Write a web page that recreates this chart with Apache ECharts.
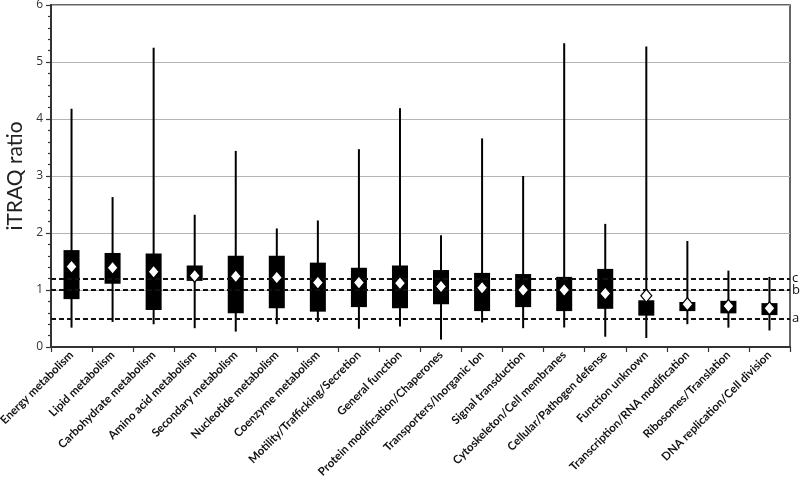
<!DOCTYPE html>
<html>
<head>
<meta charset="utf-8">
<script src="https://cdn.jsdelivr.net/npm/echarts@6/dist/echarts.min.js"></script>
<style>html,body{margin:0;padding:0;background:#fff}#c{width:800px;height:482px}</style>
</head>
<body>
<div id="c"></div>
<script>
var categories = ["Energy metabolism","Lipid metabolism","Carbohydrate metabolism","Amino acid metabolism","Secondary metabolism","Nucleotide metabolism","Coenzyme metabolism","Motility/Trafficking/Secretion","General function","Protein modification/Chaperones","Transporters/Inorganic Ion","Signal transduction","Cytoskeleton/Cell membranes","Cellular/Pathogen defense","Function unknown","Transcription/RNA modification","Ribosomes/Translation","DNA replication/Cell division"];
var whiskerMin = [0.34,0.44,0.40,0.33,0.27,0.40,0.44,0.32,0.36,0.13,0.43,0.33,0.34,0.18,0.16,0.40,0.34,0.29];
var boxLow     = [0.84,1.11,0.65,1.16,0.59,0.68,0.62,0.70,0.68,0.75,0.63,0.70,0.63,0.67,0.55,0.63,0.59,0.56];
var boxHigh    = [1.70,1.65,1.64,1.43,1.60,1.60,1.48,1.39,1.43,1.35,1.30,1.28,1.23,1.37,0.82,0.79,0.81,0.77];
var whiskerMax = [4.18,2.63,5.25,2.32,3.44,2.08,2.22,3.47,4.19,1.96,3.66,3.00,5.33,2.16,5.27,1.86,1.34,1.23];
var means      = [1.41,1.39,1.32,1.25,1.24,1.22,1.13,1.13,1.12,1.06,1.04,1.00,1.00,0.94,0.90,0.75,0.72,0.68];
var refValues = [1.2, 1.0, 0.5];
var refLabels = ["c", "b", "a"];
var yTicks = [0,1,2,3,4,5,6];

var boxData = categories.map(function(c, i){ return [i, whiskerMin[i], boxLow[i], boxHigh[i], whiskerMax[i]]; });
var meanData = categories.map(function(c, i){ return [i, means[i]]; });

var chart = echarts.init(document.getElementById('c'), null, {renderer:'canvas'});
chart.setOption({
  animation: false,
  grid: {left: 51, right: 10, top: 5, bottom: 135, outerBoundsMode: 'none', containLabel: false, show: true, borderColor: '#333', borderWidth: 1.5, backgroundColor: 'transparent'},
  xAxis: {
    type: 'category', data: categories, boundaryGap: true,
    axisLine: {lineStyle: {color: '#333', width: 2}},
    axisTick: {show: true, length: 5, lineStyle: {color: '#333', width: 1.2}},
    axisLabel: {rotate: 45, interval: 0, fontFamily: 'Lato', fontWeight: 'bold', fontSize: 11.5, color: '#111', margin: 6}
  },
  yAxis: {
    type: 'value', min: yTicks[0], max: yTicks[yTicks.length-1], interval: 1,
    name: 'iTRAQ ratio', nameLocation: 'middle', nameGap: 24, nameTextStyle: {fontFamily: 'Lato', fontSize: 21, color: '#222'},
    axisLine: {show: true, lineStyle: {color: '#333', width: 2}},
    axisTick: {show: true, length: 5, lineStyle: {color: '#333', width: 1.2}},
    minorTick: {show: true, splitNumber: 5, length: 3, lineStyle: {color: '#333', width: 1.2}},
    axisLabel: {fontFamily: 'Open Sans', fontSize: 12, color: '#333', margin: 8},
    splitLine: {show: true, lineStyle: {color: '#b4b4b4', width: 1.2}}
  },
  series: [
    {
      type: 'custom', data: boxData, z: 3,
      markLine: {
        silent: true, symbol: 'none',
        lineStyle: {type: [5, 3], color: '#111', width: 2},
        label: {show: true, position: 'end', distance: 2, fontFamily: 'Open Sans', fontSize: 13, color: '#111',
                formatter: function(p){ return p.name; }},
        data: refValues.map(function(v, i){ return {yAxis: v, name: refLabels[i]}; })
      },
      renderItem: function(params, api){
        var x = api.value(0);
        var pMin = api.coord([x, api.value(1)]);
        var pLow = api.coord([x, api.value(2)]);
        var pHigh = api.coord([x, api.value(3)]);
        var pMax = api.coord([x, api.value(4)]);
        var w = api.size([1, 0])[0] * 0.39;
        return {type: 'group', children: [
          {type: 'line', shape: {x1: pMin[0], y1: pMin[1], x2: pMax[0], y2: pMax[1]}, style: {stroke: '#000', lineWidth: 2}},
          {type: 'rect', shape: {x: pHigh[0] - w/2, y: pHigh[1], width: w, height: pLow[1] - pHigh[1]}, style: {fill: '#000'}}
        ]};
      }
    },
    {
      type: 'scatter', data: meanData, z: 5, symbol: 'diamond', symbolSize: [11, 13],
      itemStyle: {color: '#fff', borderColor: '#000', borderWidth: 1.2, opacity: 1}
    }
  ]
});
</script>
</body>
</html>
